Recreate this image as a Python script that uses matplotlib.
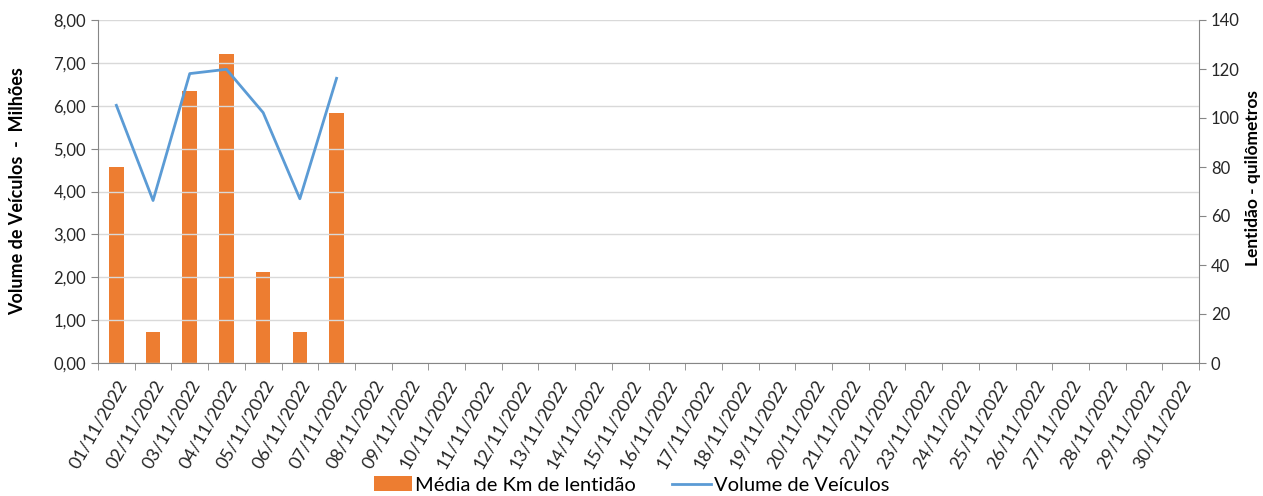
import numpy as np
import matplotlib
matplotlib.use("Agg")
import matplotlib.pyplot as plt
from matplotlib.ticker import FuncFormatter, MultipleLocator, FixedLocator

plt.rcParams['font.family'] = ['Lato', 'DejaVu Sans']

# data
dias = ["%02d/11/2022" % d for d in range(1, 31)]
km_lentidao = [80.0, 12.8, 111.0, 126.0, 37.0, 12.8, 102.0]      # km (eixo direito)
volume_veic = [6.01, 3.79, 6.75, 6.85, 5.84, 3.83, 6.64]         # milhões (eixo esquerdo)

fig = plt.figure(figsize=(12.63, 4.96), dpi=100)
ax = fig.add_axes([98/1263, 1 - 363/496, (1199 - 98)/1263, (363 - 20)/496])
ax2 = ax.twinx()

x = np.arange(len(dias))
ax2.bar(x[:len(km_lentidao)], km_lentidao, width=0.4, color="#ED7D31",
        label="Média de Km de lentidão")
ax.plot(x[:len(volume_veic)], volume_veic, color="#5B9BD5", lw=2,
        label="Volume de Veículos")
ax.set_zorder(ax2.get_zorder() + 1)
ax.patch.set_visible(False)

ax.set_xlim(-0.5, len(dias) - 0.5)
ax.set_ylim(0, 8)
ax2.set_ylim(0, 140)
ax.yaxis.set_major_locator(MultipleLocator(1))
ax.yaxis.set_major_formatter(FuncFormatter(lambda v, p: ("%.2f" % v).replace(".", ",")))
ax2.yaxis.set_major_locator(MultipleLocator(20))

ax.grid(axis="y", color="#D9D9D9", lw=1)
ax.set_axisbelow(True)

ax.set_xticks(x)
ax.set_xticklabels(dias, rotation=60, ha="right", rotation_mode="anchor", fontsize=13, color="#262626")
ax.xaxis.set_minor_locator(FixedLocator(np.arange(-0.5, len(dias), 1)))
ax.tick_params(axis="x", which="major", length=0, pad=10)
ax.tick_params(axis="x", which="minor", length=5, color="#868686")
ax.tick_params(axis="y", length=5, color="#868686", labelsize=12, labelcolor="#262626")
ax2.tick_params(axis="y", length=5, color="#868686", labelsize=12, labelcolor="#262626")

for a in (ax, ax2):
    for s in a.spines.values():
        s.set_visible(False)
ax.spines["left"].set_visible(True)
ax.spines["bottom"].set_visible(True)
ax2.spines["right"].set_visible(True)
for s in (ax.spines["left"], ax.spines["bottom"], ax2.spines["right"]):
    s.set_color("#868686")

ax.set_ylabel("Volume de Veículos  -  Milhões", fontsize=13, fontweight="bold", labelpad=20)
fig.text(1253/1263, 1 - 178/496, "Lentidão - quilômetros", rotation=90, ha="center", va="center",
         fontsize=12.5, fontweight="bold")

h1, l1 = ax2.get_legend_handles_labels()
h2, l2 = ax.get_legend_handles_labels()
fig.legend(h1 + h2, l1 + l2, loc="center", bbox_to_anchor=(0.5, 1 - 485/496), ncol=2,
           frameon=False, fontsize=14.5, handlelength=1.9, handletextpad=0.15, columnspacing=1.8,
           borderaxespad=0)

fig.savefig("out.png", dpi=100)
